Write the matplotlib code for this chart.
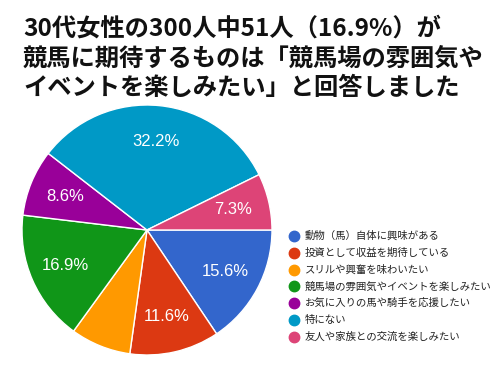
import matplotlib
matplotlib.use("Agg")
import matplotlib.pyplot as plt
from matplotlib.lines import Line2D

plt.rcParams['font.family'] = ['Noto Sans CJK JP', 'DejaVu Sans']

categories = [
    "動物（馬）自体に興味がある",
    "投資として収益を期待している",
    "スリルや興奮を味わいたい",
    "競馬場の雰囲気やイベントを楽しみたい",
    "お気に入りの馬や騎手を応援したい",
    "特にない",
    "友人や家族との交流を楽しみたい",
]
values = [15.6, 11.6, 7.8, 16.9, 8.6, 32.2, 7.3]
show_label = [True, True, False, True, True, True, True]
colors = ["#3366cc", "#dc3912", "#ff9900", "#109618", "#990099", "#0099c6", "#dd4477"]
title_lines = [
    "30代女性の300人中51人（16.9%）が",
    "競馬に期待するものは「競馬場の雰囲気や",
    "イベントを楽しみたい」と回答しました",
]

W, H = 500, 375
fig = plt.figure(figsize=(5, 3.75), dpi=100)

# pie
cx, cy, r = 147, 230, 125
ax = fig.add_axes([(cx - r) / W, (H - cy - r) / H, 2 * r / W, 2 * r / H])
wedges, _ = ax.pie(values, colors=colors, startangle=0, counterclock=False,
                   wedgeprops=dict(edgecolor="white", linewidth=1.0), radius=1.0)
import numpy as np
total = sum(values)
for w, v, s in zip(wedges, values, show_label):
    if not s:
        continue
    ang = np.deg2rad((w.theta1 + w.theta2) / 2)
    d = 0.71
    ax.text(d * np.cos(ang), d * np.sin(ang), f"{v / total * 100:.1f}%",
            ha="center", va="center", color="white", fontsize=12,
            family=["Liberation Sans", "DejaVu Sans"])
ax.set_xlim(-1, 1)
ax.set_ylim(-1, 1)
ax.set_aspect("equal")
ax.axis("off")

# title
for i, line in enumerate(title_lines):
    fig.text(23 / W, 1 - (29 + i * 29.5) / H, line, ha="left", va="center",
             fontsize=17.5, fontweight="bold", color="#111111")

# legend
for i, (c, lab) in enumerate(zip(colors, categories)):
    y = 1 - (236 + i * 16.8) / H
    fig.add_artist(Line2D([294 / W], [y], marker="o", markersize=7.5, color=c,
                          linestyle="", transform=fig.transFigure))
    fig.text(305 / W, y, lab, ha="left", va="center", fontsize=7.5, color="#222222")

fig.savefig("out.png", dpi=100)
